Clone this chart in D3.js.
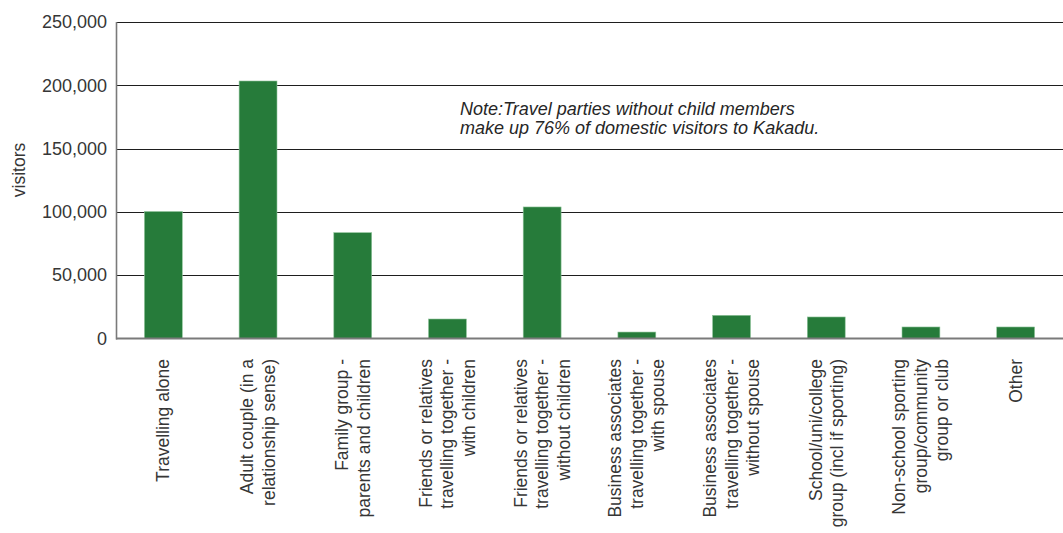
<!DOCTYPE html>
<html>
<head>
<meta charset="utf-8">
<script src="https://cdn.jsdelivr.net/npm/d3@7"></script>
<style>
  html, body { margin: 0; padding: 0; background: #fff; }
  svg { display: block; font-family: "Liberation Sans", Arial, Helvetica, sans-serif; }
</style>
</head>
<body>
<svg id="chart" width="1063" height="533"></svg>
<script>
// Travel party types of domestic visitors to Kakadu
const categories = [
  ["Travelling alone"],
  ["Adult couple (in a", "relationship sense)"],
  ["Family group -", "parents and children"],
  ["Friends or relatives", "travelling together -", "with children"],
  ["Friends or relatives", "travelling together -", "without children"],
  ["Business associates", "travelling together -", "with spouse"],
  ["Business associates", "travelling together -", "without spouse"],
  ["School/uni/college", "group (incl if sporting)"],
  ["Non-school sporting", "group/community", "group or club"],
  ["Other"]
];
const visitors = [100300, 203400, 83600, 15400, 103900, 5100, 18300, 17000, 9100, 9100];
const yTicks = [0, 50000, 100000, 150000, 200000, 250000];
const noteLines = [
  "Note:Travel parties without child members",
  "make up 76% of domestic visitors to Kakadu."
];

const svg = d3.select("#chart");
const margin = { left: 116, right: 0, top: 22, bottom: 195 };
const W = 1063, H = 533;
const textColor = "#363636";

const x = d3.scaleBand()
  .domain(d3.range(categories.length))
  .range([margin.left, W - margin.right])
  .paddingInner(0.6)
  .paddingOuter(0.3);

const y = d3.scaleLinear()
  .domain([0, 250000])
  .range([H - margin.bottom + 0.5, margin.top]);

// horizontal gridlines
svg.append("g")
  .selectAll("line")
  .data(yTicks.filter(d => d > 0))
  .join("line")
  .attr("x1", margin.left)
  .attr("x2", W)
  .attr("y1", d => Math.round(y(d)) + 0.5)
  .attr("y2", d => Math.round(y(d)) + 0.5)
  .attr("stroke", "#1e1e1e")
  .attr("stroke-width", 1.2);

// bars
svg.append("g")
  .selectAll("rect")
  .data(visitors)
  .join("rect")
  .attr("x", (d, i) => x(i))
  .attr("width", x.bandwidth())
  .attr("y", d => y(d))
  .attr("height", d => y(0) - y(d))
  .attr("fill", "#267b3a")
  .attr("stroke", "#8fc49a")
  .attr("stroke-width", 0.6);

// y axis
const yAxis = d3.axisLeft(y)
  .tickValues(yTicks)
  .tickSize(0)
  .tickPadding(9)
  .tickFormat(d3.format(",d"));
const gy = svg.append("g")
  .attr("transform", `translate(${margin.left},0)`)
  .call(yAxis);
gy.select(".domain").remove();
gy.selectAll("text")
  .attr("font-size", 18)
  .attr("fill", textColor)
  .attr("font-family", "'Liberation Sans', Arial, sans-serif");

// axis lines
svg.append("line")
  .attr("x1", margin.left + 0.5).attr("x2", margin.left + 0.5)
  .attr("y1", margin.top).attr("y2", y(0) + 1)
  .attr("stroke", "#7a7a7a").attr("stroke-width", 1.6);
svg.append("line")
  .attr("x1", margin.left).attr("x2", W)
  .attr("y1", y(0)).attr("y2", y(0))
  .attr("stroke", "#7a7a7a").attr("stroke-width", 2);

// x axis labels (rotated, end-anchored under the axis)
const lineGap = 21.5;
const labelTop = 359;
const gx = svg.append("g");
categories.forEach((lines, i) => {
  const cx = x(i) + x.bandwidth() / 2;
  const n = lines.length;
  lines.forEach((t, j) => {
    const off = (j - (n - 1) / 2) * lineGap;
    gx.append("text")
      .attr("transform", `translate(${cx + off + 6},${labelTop}) rotate(-90)`)
      .attr("text-anchor", "end")
      .attr("font-size", 17.5)
      .attr("fill", textColor)
      .text(t);
  });
});

// y axis title
svg.append("text")
  .attr("transform", `translate(25,170) rotate(-90)`)
  .attr("text-anchor", "middle")
  .attr("font-size", 17.5)
  .attr("fill", textColor)
  .text("visitors");

// note
svg.append("g")
  .selectAll("text")
  .data(noteLines)
  .join("text")
  .attr("x", 460)
  .attr("y", (d, i) => 115 + i * 18.5)
  .attr("font-size", 18)
  .attr("font-style", "italic")
  .attr("fill", "#262626")
  .text(d => d);
</script>
</body>
</html>
